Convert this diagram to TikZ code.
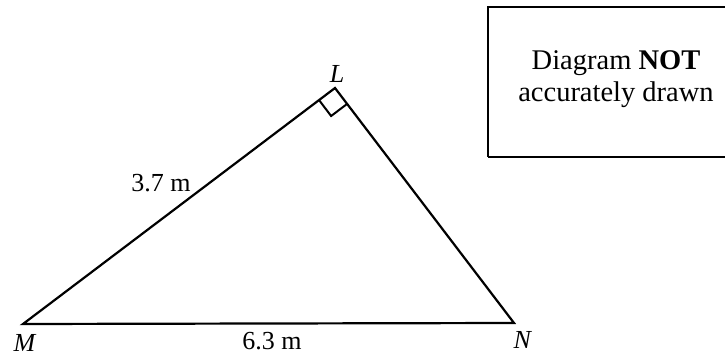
\documentclass[tikz,border=0pt]{standalone}
\usepackage{fontspec}
\setmainfont{Liberation Serif}
\usepackage{tikz}
\usetikzlibrary{calc, positioning}

\begin{document}
\begin{tikzpicture}[
			x=1pt, y=-1pt,
			side/.style={line width=2.2pt, line join=miter},
			lbl/.style={font=\fontsize{26}{28}\selectfont, inner sep=0pt}]
			\useasboundingbox (0,0) rectangle (725,355);
			% vertices
			\coordinate (M) at (23,324);
			\coordinate (N) at (514,323);
			\coordinate (L) at (335,88);
			\draw[side] (M) -- (L) -- (N) -- cycle;
			% right angle at L
			\draw[line width=2pt] ($(L)!20pt!(M)$) -- ($(L)!20pt!(M)!20pt!-90:(L)$) -- ($(L)!20pt!(N)$);
			% box
			\draw[line width=1.8pt] (488,157) -- (488,7) -- (726,7);
			\draw[line width=1.8pt] (488,157) -- (726,157);
			\node[font=\fontsize{28.5}{32}\selectfont, align=center] (note) at (616,79) {Diagram \textbf{NOT}\\accurately drawn};
			% labels
			\node[lbl] (labL) at (337,74) {\textit{L}};
			\node[lbl] (labM) at (25,343) {\textit{M}};
			\node[lbl] (labN) at (523,340) {\textit{N}};
			\node[lbl] (labLM) at (161,183) {3.7 m};
			\node[lbl] (labMN) at (272,341) {6.3 m};
		\end{tikzpicture}
\end{document}
